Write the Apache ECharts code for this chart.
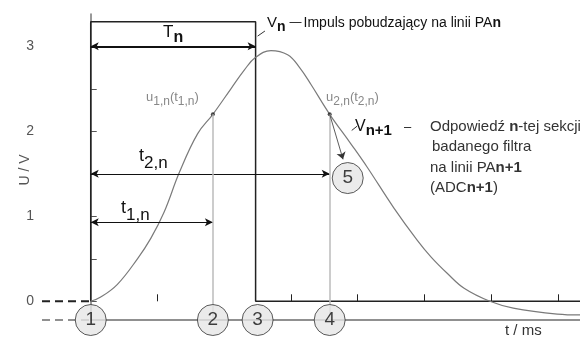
<!DOCTYPE html>
<html>
<head>
<meta charset="utf-8">
<script src="https://cdn.jsdelivr.net/npm/echarts@6/dist/echarts.min.js"></script>
<style>
  html, body { margin: 0; padding: 0; background: #fff; }
  #chart { width: 588px; height: 338px; }
</style>
</head>
<body>
<div id="chart"></div>
<script>
// czas w jednostkach podziałki, napięcie w V
const curveT = [0, 0.15, 0.4, 0.7, 0.9, 1.1, 1.33, 1.6, 1.83, 2.1, 2.3, 2.47, 2.7, 2.95, 3.13, 3.3, 3.58, 3.9, 4.14, 4.54, 4.89, 5.1, 5.34, 5.6, 5.98, 6.33, 6.99, 7.33];
const curveU = [0, 0.05, 0.2, 0.5, 0.74, 1.05, 1.52, 1.97, 2.2, 2.5, 2.72, 2.87, 2.95, 2.9, 2.75, 2.55, 2.2, 1.85, 1.58, 1.1, 0.72, 0.52, 0.33, 0.15, 0, -0.08, -0.15, -0.16];
const pulseT = [0, 0, 2.47, 2.47, 7.33];
const pulseU = [0, 3.29, 3.29, 0, 0];
const sampleT = [1.83, 3.58];
const sampleU = [2.2, 2.2];
const markerT = [0, 1.83, 2.5, 3.58];
const markerLabels = ['1', '2', '3', '4'];
const marker5 = [3.85, 1.45];
const tnSpan = [0, 2.47, 3];
const t2Span = [0, 3.58, 1.5];
const t1Span = [0, 1.83, 0.93];
const yTicks = [0, 0.5, 1, 1.5, 2, 2.5, 3];
const yLabels = [0, 1, 2, 3];
const xTicks = [1, 3, 4, 5, 6, 7]; // 0 i 2 schowane pod kółkami
const xMin = -0.73, xMax = 7.33, yMin = -0.22, yMax = 3.38;

const FF = '"Liberation Sans", Arial, sans-serif';
const chart = echarts.init(document.getElementById('chart'));

const mctx = document.createElement('canvas').getContext('2d');
function textRun(x, y, parts, color) {
  const out = [];
  let cx = x;
  parts.forEach(p => {
    const font = (p.b ? 'bold ' : '') + p.s + 'px ' + FF;
    mctx.font = font;
    out.push({
      type: 'text',
      x: cx,
      y: y + (p.dy || 0),
      z: 100,
      style: { text: p.t, font: font, fill: p.c || color, verticalAlign: 'middle' },
    });
    cx += mctx.measureText(p.t).width + (p.gap || 0);
  });
  return out;
}

function seg(a, b) {
  return [a, b];
}

const arrowLine = (span, width) => [
  { coord: [span[0], span[2]], lineStyle: { width: width } },
  { coord: [span[1], span[2]] },
];

const graphics = [].concat(
  textRun(163, 32, [{ t: 'T', s: 17 }, { t: 'n', s: 16, b: true, dy: 6 }], '#111'),
  textRun(267, 23, [{ t: 'V', s: 15 }, { t: 'n', s: 14, b: true, dy: 4, gap: 4 }, { t: '—', s: 12, gap: 2 }, { t: 'Impuls pobudzający na linii PA', s: 14 }, { t: 'n', s: 14, b: true }], '#111'),
  textRun(146, 97, [{ t: 'u', s: 13 }, { t: '1,n', s: 12, dy: 5 }, { t: '(t', s: 13 }, { t: '1,n', s: 12, dy: 5 }, { t: ')', s: 13 }], '#888'),
  textRun(326, 97, [{ t: 'u', s: 13 }, { t: '2,n', s: 12, dy: 5 }, { t: '(t', s: 13 }, { t: '2,n', s: 12, dy: 5 }, { t: ')', s: 13 }], '#888'),
  textRun(139, 156, [{ t: 't', s: 18 }, { t: '2,n', s: 17, dy: 7 }], '#111'),
  textRun(121, 208, [{ t: 't', s: 18 }, { t: '1,n', s: 17, dy: 7 }], '#111'),
  textRun(355, 127, [{ t: 'V', s: 16 }, { t: 'n+1', s: 15, b: true, dy: 4, gap: 12 }, { t: '–', s: 13 }], '#111'),
  textRun(430, 127, [{ t: 'Odpowiedź ', s: 15 }, { t: 'n', s: 15, b: true }, { t: '-tej sekcji', s: 15 }], '#333'),
  textRun(432, 147, [{ t: 'badanego filtra', s: 15 }], '#333'),
  textRun(430, 168, [{ t: 'na linii PA', s: 15 }, { t: 'n+1', s: 15, b: true }], '#333'),
  textRun(430, 188, [{ t: '(ADC', s: 15 }, { t: 'n+1', s: 15, b: true }, { t: ')', s: 15 }], '#333'),
  textRun(505, 331, [{ t: 't / ms', s: 15 }], '#333'),
  [{
    type: 'text',
    x: 25,
    y: 170,
    rotation: Math.PI / 2,
    z: 100,
    style: { text: 'U / V', font: '14px ' + FF, fill: '#555', align: 'center', verticalAlign: 'middle' },
  }]
);

chart.setOption({
  animation: false,
  grid: { left: 42, right: 8, top: 14, bottom: 18, containLabel: false },
  xAxis: {
    type: 'value',
    min: xMin,
    max: xMax,
    axisLine: { show: false },
    axisTick: { show: true, inside: true, length: 7, customValues: xTicks, lineStyle: { color: '#222' } },
    axisLabel: { show: false },
    splitLine: { show: false },
  },
  yAxis: {
    type: 'value',
    min: yMin,
    max: yMax,
    axisLine: { show: true, lineStyle: { color: '#777', width: 1.5 } },
    axisTick: { show: true, inside: true, length: 6, customValues: yTicks, lineStyle: { color: '#555' } },
    axisLabel: { customValues: yLabels, color: '#555', fontSize: 14, fontFamily: FF, margin: 8 },
    splitLine: { show: false },
  },
  graphic: graphics,
  series: [
    {
      name: 'odpowiedź',
      type: 'line',
      data: curveT.map((t, i) => [t, curveU[i]]),
      smooth: 0.4,
      symbol: 'none',
      clip: false,
      lineStyle: { color: '#7a7a7a', width: 1.2 },
      z: 3,
    },
    {
      name: 'impuls',
      type: 'line',
      data: pulseT.map((t, i) => [t, pulseU[i]]),
      symbol: 'none',
      clip: false,
      lineStyle: { color: '#222', width: 1.5 },
      z: 2,
    },
    {
      name: 'oś t',
      type: 'line',
      data: seg([0, yMin], [xMax, yMin]),
      symbol: 'none',
      clip: false,
      lineStyle: { color: '#222', width: 1.2 },
      z: 2,
    },
    {
      name: 'przerywana 0',
      type: 'line',
      data: seg([xMin, 0], [0, 0]),
      symbol: 'none',
      clip: false,
      lineStyle: { color: '#222', width: 2, type: [8, 5] },
      z: 2,
    },
    {
      name: 'przerywana oś',
      type: 'line',
      data: seg([xMin, yMin], [0, yMin]),
      symbol: 'none',
      clip: false,
      lineStyle: { color: '#222', width: 1.2, type: [8, 5] },
      z: 2,
    },
    {
      name: 'próbki',
      type: 'scatter',
      data: sampleT.map((t, i) => [t, sampleU[i]]),
      symbolSize: 4,
      itemStyle: { color: '#222' },
      z: 4,
      markLine: {
        silent: true,
        symbol: ['arrow', 'arrow'],
        symbolSize: [6, 8],
        label: { show: false },
        lineStyle: { color: '#111', type: 'solid', width: 1 },
        data: [
          arrowLine(tnSpan, 2),
          arrowLine(t2Span, 1),
          arrowLine(t1Span, 1),
          [{ coord: [sampleT[0], sampleU[0]], symbol: 'none', lineStyle: { color: '#bbb', width: 1.5 } }, { coord: [sampleT[0], yMin], symbol: 'none' }],
          [{ coord: [sampleT[1], sampleU[1]], symbol: 'none', lineStyle: { color: '#bbb', width: 1.5 } }, { coord: [sampleT[1], yMin], symbol: 'none' }],
          [{ coord: [sampleT[1], sampleU[1]], symbol: 'none', lineStyle: { color: '#333', width: 0.8 } }, { coord: [3.78, 1.67], symbol: 'arrow', symbolSize: 7 }],
          [{ coord: [2.5, 3.12], symbol: 'none', lineStyle: { color: '#333', width: 1 } }, { coord: [2.61, 3.18], symbol: 'none' }],
          [{ coord: [3.91, 2.01], symbol: 'none', lineStyle: { color: '#333', width: 1 } }, { coord: [3.99, 2.06], symbol: 'none' }],
        ],
      },
    },
    {
      name: 'znaczniki',
      type: 'scatter',
      data: markerT.map((t, i) => ({ value: [t, yMin], label: markerLabels[i] })).concat([{ value: marker5, label: '5' }]),
      symbol: 'circle',
      symbolSize: 31,
      clip: false,
      itemStyle: { color: '#e6e6e6', borderColor: '#333', borderWidth: 1 },
      label: {
        show: true,
        position: 'inside',
        formatter: p => p.data.label,
        color: '#111',
        fontSize: 19,
        fontFamily: FF,
      },
      z: 10,
    },
  ],
});
</script>
</body>
</html>
